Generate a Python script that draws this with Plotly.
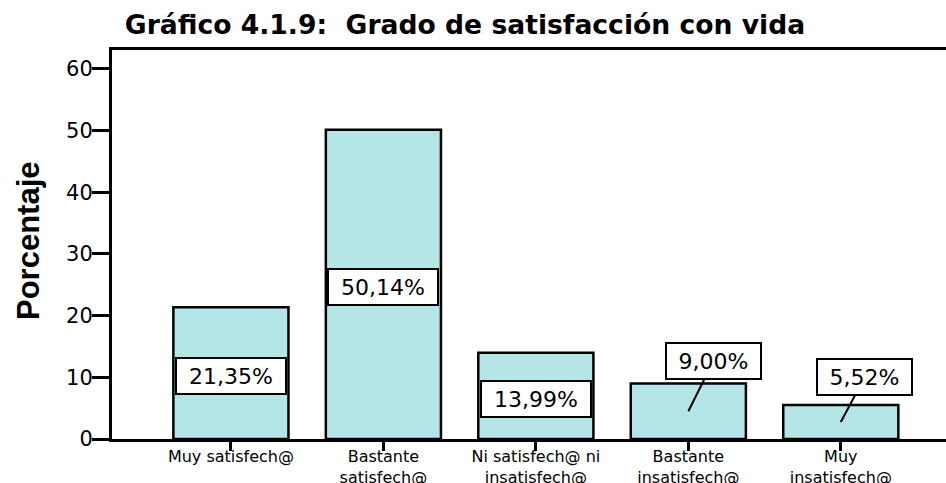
import plotly.graph_objects as go

categories = ["Muy satisfech@", "Bastante<br>satisfech@", "Ni satisfech@ ni<br>insatisfech@",
              "Bastante<br>insatisfech@", "Muy<br>insatisfech@"]
values = [21.35, 50.14, 13.99, 9.00, 5.52]
label_texts = ["21,35%", "50,14%", "13,99%", "9,00%", "5,52%"]
y_ticks = [0, 10, 20, 30, 40, 50, 60]

BAR_COLOR = "rgb(180,230,232)"
FONT = "DejaVu Sans, Liberation Sans, Arial, sans-serif"

fig = go.Figure()
fig.add_trace(go.Bar(
    x=list(range(len(categories))), y=values,
    marker=dict(color=BAR_COLOR, line=dict(color="black", width=2.5)),
    width=0.755, hoverinfo="skip",
))

# callout settings (style only)
callouts = [
    dict(arrow=False, ax=0, ay=0, w=104),
    dict(arrow=False, ax=0, ay=0, w=104),
    dict(arrow=False, ax=0, ay=0, w=104),
    dict(arrow=True, ax=25, ay=-50, w=89),
    dict(arrow=True, ax=24, ay=-45, w=89),
]
for i, (v, t, c) in enumerate(zip(values, label_texts, callouts)):
    ann = dict(x=i, y=v / 2, xref="x", yref="y", text=t,
               font=dict(family=FONT, size=22, color="black"),
               bgcolor="white", bordercolor="black", borderwidth=2, borderpad=2,
               width=c["w"], height=30, align="center")
    if c["arrow"]:
        ann.update(showarrow=True, arrowhead=0, arrowwidth=2, arrowcolor="black",
                   ax=c["ax"], ay=c["ay"], standoff=0)
    else:
        ann.update(showarrow=False, yshift=-3)
    fig.add_annotation(**ann)

# y-axis title placed as a rotated text
fig.add_annotation(
    text="<b>Porcentaje</b>", xref="paper", yref="paper",
    x=(28 - 112) / 834, y=0.5 + 3.5 / 389,
    xanchor="center", yanchor="middle", textangle=-90, showarrow=False,
    font=dict(family="Liberation Sans, Arial, sans-serif", size=31, color="black"),
)

fig.update_layout(
    width=946, height=483,
    margin=dict(l=112, r=0, t=50, b=44, autoexpand=False),
    paper_bgcolor="white", plot_bgcolor="white",
    showlegend=False,
    bargap=0.245,
    title=dict(text="<b>Gráfico 4.1.9:  Grado de satisfacción con vida</b>",
               x=465 / 946, xanchor="center", xref="container", y=1 - 25 / 483, yanchor="middle",
               yref="container", font=dict(family=FONT, size=26.6, color="black")),
)

fig.update_xaxes(
    range=[-0.78, 4.69], tickmode="array", tickvals=list(range(len(categories))),
    ticktext=categories, ticks="outside", ticklen=9, tickwidth=3, tickcolor="black",
    showline=True, linecolor="black", linewidth=3, mirror=True,
    showgrid=False, zeroline=False, automargin=False, ticklabelstandoff=-8,
    tickfont=dict(family=FONT, size=16, color="black"),
)
fig.update_yaxes(
    range=[0, 63.05], tickmode="array", tickvals=y_ticks, ticks="outside",
    ticklen=17, tickwidth=3, tickcolor="black",
    showline=True, linecolor="black", linewidth=3, showgrid=False, zeroline=False,
    automargin=False, ticklabelstandoff=-5,
    tickfont=dict(family=FONT, size=21, color="black"),
)

fig.write_html("out.html", config={"displayModeBar": False},
               post_script="document.body.style.margin='0';document.body.style.overflow='hidden';")
